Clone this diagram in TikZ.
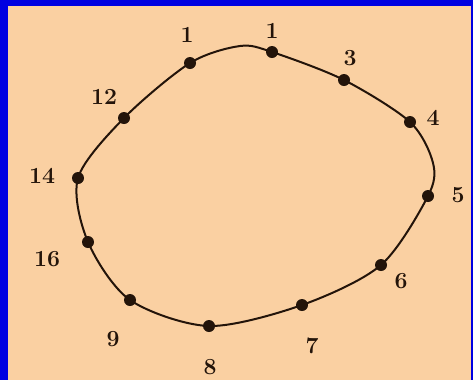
\documentclass[tikz,border=0pt]{standalone}
\usepackage{tikz}
\definecolor{peach}{RGB}{250,208,162}
\definecolor{frameblue}{RGB}{0,0,225}
\definecolor{ink}{RGB}{35,20,10}

\begin{document}
\begin{tikzpicture}[x=0.75pt, y=-0.75pt, every node/.style={font=\LARGE\bfseries}, dot/.style={circle, fill=ink, inner sep=0pt, minimum size=9pt}, lbl/.style={text=ink, inner sep=1pt}]
	\fill[frameblue] (0,0) rectangle (473,380);
	\fill[peach] (8,6) rectangle (471,380);
	% points on the loop
	\coordinate (p1) at (190,63);
	\coordinate (top) at (240,46);
	\coordinate (p2) at (272,52);
	\coordinate (p3) at (344,80);
	\coordinate (p4) at (410,122);
	\coordinate (right) at (433,163);
	\coordinate (p5) at (428,196);
	\coordinate (p6) at (381,265);
	\coordinate (p7) at (302,305);
	\coordinate (p8) at (209,326);
	\coordinate (p9) at (130,300);
	\coordinate (p16) at (88,242);
	\coordinate (p14) at (78,178);
	\coordinate (p12) at (124,118);
	\draw[ink, line width=1.5pt] plot[smooth cycle, tension=0.5] coordinates {(p1) (top) (p2) (p3) (p4) (right) (p5) (p6) (p7) (p8) (p9) (p16) (p14) (p12)};
	\foreach \p in {p1,p2,p3,p4,p5,p6,p7,p8,p9,p16,p14,p12}
		\node[dot] (d\p) at (\p) {};
	% labels
	\node[lbl] (l1) at (187,35) {1};
	\node[lbl] (l2) at (272,31) {1};
	\node[lbl] (l3) at (350,58) {3};
	\node[lbl] (l4) at (433,118) {4};
	\node[lbl] (l5) at (458,195) {5};
	\node[lbl] (l6) at (401,281) {6};
	\node[lbl] (l7) at (312,346) {7};
	\node[lbl] (l8) at (210,367) {8};
	\node[lbl] (l9) at (113,339) {9};
	\node[lbl] (l16) at (47,259) {16};
	\node[lbl] (l14) at (42,176) {14};
	\node[lbl] (l12) at (104,97) {12};
\end{tikzpicture}
\end{document}
